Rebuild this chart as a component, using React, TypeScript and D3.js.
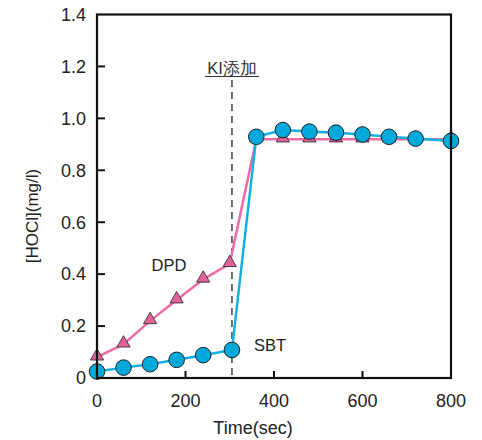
import React from "react";
import * as d3 from "d3";

const dpdTimes = [0, 60, 120, 180, 240, 300, 360, 420, 480, 540, 600, 660, 720, 800];
const dpdValues = [0.08, 0.13, 0.22, 0.30, 0.38, 0.44, 0.92, 0.92, 0.92, 0.92, 0.92, 0.92, 0.92, 0.92];
const sbtTimes = [0, 60, 120, 180, 240, 305, 360, 420, 480, 540, 600, 660, 720, 800];
const sbtValues = [0.025, 0.04, 0.053, 0.07, 0.088, 0.108, 0.929, 0.955, 0.949, 0.945, 0.938, 0.929, 0.922, 0.913];
const xTicks = [0, 200, 400, 600, 800];
const yTicks = [0, 0.2, 0.4, 0.6, 0.8, 1.0, 1.2, 1.4];
const yTickLabels = ["0", "0.2", "0.4", "0.6", "0.8", "1.0", "1.2", "1.4"];
const kiTime = 305;

export default function App() {
  const W = 482, H = 440;
  const left = 97, right = 451, top = 14.5, bottom = 378;
  const x = d3.scaleLinear().domain([0, 800]).range([left, right]);
  const y = d3.scaleLinear().domain([0, 1.4]).range([bottom, top]);
  const dpd = dpdTimes.map((t, i) => [t, dpdValues[i]] as [number, number]);
  const sbt = sbtTimes.map((t, i) => [t, sbtValues[i]] as [number, number]);
  const line = d3.line<[number, number]>().x(d => x(d[0])).y(d => y(d[1]));
  const tri = d3.symbol().type(d3.symbolTriangle).size(75)();
  const font = "'Liberation Sans', Arial, Helvetica, sans-serif";
  const pinkLine = "#f06aa6";
  const pinkFill = "#e4619b";
  const blue = "#00a9db";
  const blueLine = "#14b1e0";
  return (
    <svg width={W} height={H} style={{ position: "fixed", left: 0, top: 0, display: "block", background: "#fff" }} fontFamily={font}>
      {/* KI dashed line */}
      <line x1={x(kiTime)} x2={x(kiTime)} y1={80} y2={bottom} stroke="#222" strokeWidth={1.3} strokeDasharray="7,5" />
      <text x={x(kiTime)} y={74} fontSize={16.5} textAnchor="middle" fill="#333">KI添加</text>
      <line x1={x(kiTime) - 27} x2={x(kiTime) + 27} y1={76.5} y2={76.5} stroke="#333" strokeWidth={1} />
      {/* DPD series */}
      <path d={line(dpd) || ""} fill="none" stroke={pinkLine} strokeWidth={2.5} />
      {dpd.map((d, i) => (
        <path key={"t" + i} d={tri || ""} transform={`translate(${x(d[0])},${y(d[1]) - 1})`} fill={pinkFill} stroke="#333" strokeWidth={0.9} />
      ))}
      {/* SBT series */}
      <path d={line(sbt) || ""} fill="none" stroke={blueLine} strokeWidth={2.5} />
      {sbt.map((d, i) => (
        <circle key={"c" + i} cx={x(d[0])} cy={y(d[1])} r={7.8} fill={blue} stroke="#222" strokeWidth={1} />
      ))}
      {/* frame */}
      <rect x={left} y={top} width={right - left} height={bottom - top} fill="none" stroke="#111" strokeWidth={2.2} />
      {yTicks.slice(1, -1).map((t) => (
        <line key={"yt" + t} x1={left} x2={left + 8} y1={y(t)} y2={y(t)} stroke="#111" strokeWidth={2} />
      ))}
      {xTicks.slice(1, -1).map((t) => (
        <line key={"xt" + t} x1={x(t)} x2={x(t)} y1={bottom} y2={bottom - 7} stroke="#111" strokeWidth={2} />
      ))}
      {yTicks.map((t, i) => (
        <text key={"yl" + t} x={86} y={y(t)} dy="0.35em" fontSize={18} textAnchor="end" fill="#222">{yTickLabels[i]}</text>
      ))}
      {xTicks.map((t) => (
        <text key={"xl" + t} x={x(t)} y={407} fontSize={18} textAnchor="middle" fill="#222">{t}</text>
      ))}
      <text x={253} y={434} fontSize={18} textAnchor="middle" fill="#222">Time(sec)</text>
      <text transform="translate(38,216) rotate(-90)" fontSize={17} textAnchor="middle" fill="#222">[HOCl](mg/l)</text>
      <text x={169} y={271} fontSize={16.5} textAnchor="middle" fill="#222">DPD</text>
      <text x={270} y={351} fontSize={16.5} textAnchor="middle" fill="#222">SBT</text>
    </svg>
  );
}
